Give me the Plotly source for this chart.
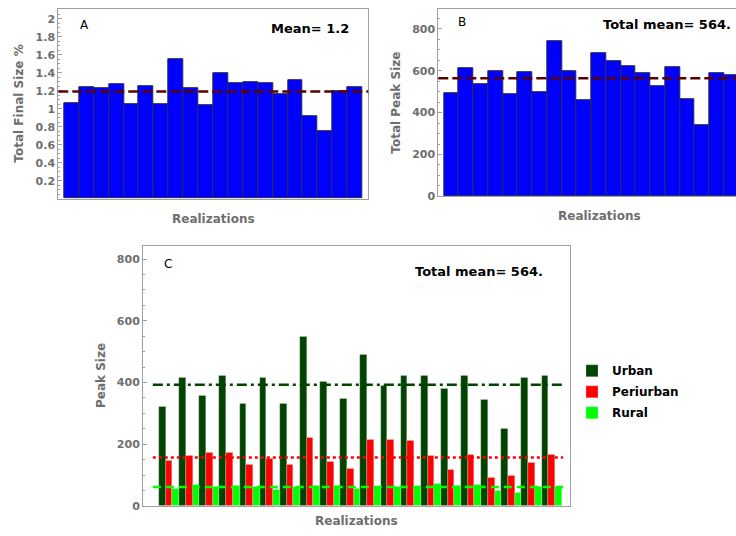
import plotly.graph_objects as go

# ---- data -------------------------------------------------------------
realizations = list(range(1, 21))

# Panel A: total final size (%) per realization
final_size_pct = [1.06, 1.24, 1.23, 1.27, 1.05, 1.25, 1.055, 1.55, 1.23, 1.04,
                  1.40, 1.28, 1.30, 1.28, 1.16, 1.32, 0.92, 0.75, 1.19, 1.24]

# Panel B: total peak size per realization
total_peak = [492, 613, 536, 600, 490, 591, 498, 743, 596, 459,
              685, 646, 621, 590, 528, 618, 465, 342, 588, 579]

# Panel C: peak size split by area type
urban = [323, 417, 358, 423, 331, 414, 330, 549, 404, 346,
         490, 389, 423, 421, 381, 423, 344, 250, 414, 422]
periurban = [146, 164, 174, 174, 135, 154, 135, 220, 143, 121,
             214, 215, 210, 162, 118, 166, 91, 98, 140, 165]
rural = [57, 68, 62, 66, 62, 54, 62, 65, 65, 56,
         63, 63, 62, 72, 65, 69, 51, 43, 62, 63]

series_names = ["Urban", "Periurban", "Rural"]
series_colors = ["#004400", "#ff0000", "#00ff00"]

tick_a = [0.2, 0.4, 0.6, 0.8, 1.0, 1.2, 1.4, 1.6, 1.8, 2.0]
tick_a_text = ["0.2", "0.4", "0.6", "0.8", "1", "1.2", "1.4", "1.6", "1.8", "2"]
tick_peak = [0, 200, 400, 600, 800]

# ---- helpers ----------------------------------------------------------
W, H = 736, 536
FONT = "DejaVu Sans"
GRAY = "#6e6e6e"
FRAME = "#a0a0a0"


def px_x(a, b):
    return [a / W, min(b / W, 1.0)]


def px_y(top, bottom):
    return [1 - bottom / H, 1 - top / H]


def mean(v):
    return sum(v) / len(v)


mean_a = mean(final_size_pct)
mean_b = mean(total_peak)
mean_series = [mean(urban), mean(periurban), mean(rural)]

fig = go.Figure()

# Panel A bars
fig.add_trace(go.Bar(
    x=realizations, y=final_size_pct, xaxis="x", yaxis="y",
    marker=dict(color="#0000ff", line=dict(color="#2a2a50", width=1)),
    showlegend=False, hoverinfo="skip"))

# Panel B bars
fig.add_trace(go.Bar(
    x=realizations, y=total_peak, xaxis="x2", yaxis="y2",
    marker=dict(color="#0000ff", line=dict(color="#2a2a50", width=1)),
    showlegend=False, hoverinfo="skip"))

# Panel C grouped bars
for name, vals, col in zip(series_names, [urban, periurban, rural], series_colors):
    fig.add_trace(go.Bar(
        x=realizations, y=vals, name=name, xaxis="x3", yaxis="y3",
        legendgroup=name,
        marker=dict(color=col, line=dict(color="rgba(220,220,220,0.6)", width=0.5)),
        hoverinfo="skip"))

tickfont = dict(family=FONT, size=11, color=GRAY, weight="bold")


def frame_axis(**kw):
    base = dict(showline=True, linecolor=FRAME, linewidth=1, mirror=True,
                showgrid=False, zeroline=False, ticks="")
    base.update(kw)
    return base


fig.update_layout(
    width=W, height=H,
    margin=dict(l=0, r=0, t=0, b=0),
    paper_bgcolor="white", plot_bgcolor="white",
    barmode="group", bargap=0, bargroupgap=0,
    xaxis=frame_axis(domain=px_x(58.3, 368.3), range=[0.10, 20.90],
                     showticklabels=False, anchor="y"),
    yaxis=frame_axis(domain=px_y(9.3, 201.3), range=[0, 2.106], anchor="x",
                     tickvals=tick_a, ticktext=tick_a_text, tickfont=tickfont,
                     ticks="inside", ticklen=4, tickcolor=FRAME,
                     minor=dict(dtick=0.05, ticks="inside", ticklen=2, tickcolor=FRAME)),
    xaxis2=frame_axis(domain=px_x(438.3, 760), range=[0.11, 20.31],
                      showticklabels=False, anchor="y2"),
    yaxis2=frame_axis(domain=px_y(9.3, 199), range=[0, 894], anchor="x2",
                      mirror=False, tickvals=tick_peak, tickfont=tickfont,
                      ticks="inside", ticklen=4, tickcolor=FRAME,
                      minor=dict(dtick=50, ticks="inside", ticklen=2, tickcolor=FRAME)),
    xaxis3=frame_axis(domain=px_x(143, 570), range=[-0.295, 20.91],
                      showticklabels=False, anchor="y3"),
    yaxis3=frame_axis(domain=px_y(249, 512.7), range=[0, 843], anchor="x3",
                      tickvals=tick_peak, tickfont=tickfont,
                      ticks="inside", ticklen=4, tickcolor=FRAME,
                      minor=dict(dtick=50, ticks="inside", ticklen=2, tickcolor=FRAME)),
    legend=dict(x=572 / W, y=1 - 361 / H, xanchor="left", yanchor="top",
                font=dict(family=FONT, size=12, color="black", weight="bold"),
                bgcolor="rgba(0,0,0,0)", itemwidth=30, traceorder="grouped",
                tracegroupgap=2),
)

# mean lines
shapes = [
    dict(type="line", xref="x domain", yref="y", x0=0, x1=1, y0=mean_a, y1=mean_a,
         line=dict(color="#5a0000", width=2.5, dash="10px,4px")),
    dict(type="line", xref="x2 domain", yref="y2", x0=0, x1=1, y0=mean_b, y1=mean_b,
         line=dict(color="#5a0000", width=2.5, dash="10px,4px")),
]
mean_dashes = ["10px,4px,3px,4px", "3px,3px", "8px,5px"]
for m, col, dash in zip(mean_series, series_colors, mean_dashes):
    shapes.append(dict(type="line", xref="x3 domain", yref="y3", x0=0.023, x1=0.984,
                       y0=m, y1=m, line=dict(color=col, width=2.5, dash=dash)))
fig.update_layout(shapes=shapes)


def ann(text, x, y, size=13, bold=True, color="black", xanchor="left", angle=0):
    fig.add_annotation(
        text=text, x=x / W, y=1 - y / H, xref="paper", yref="paper",
        xanchor=xanchor, yanchor="middle", showarrow=False, textangle=angle,
        font=dict(family=FONT, size=size, color=color,
                  weight="bold" if bold else "normal"))


# panel letters and mean labels
ann("A", 78, 25, size=12, bold=False)
ann(f"Mean= {mean_a:.1f}", 269, 29)
ann("B", 456, 22, size=12, bold=False)
ann(f"Total mean= {mean_b:.0f}.", 601, 24.5)
ann("C", 162, 267, size=12, bold=False)
ann(f"Total mean= {mean_b:.0f}.", 413, 275)

# axis titles
ann("Total Final Size %", 19, 105, size=12, color=GRAY, xanchor="center", angle=-90)
ann("Realizations", 213, 222, size=12, color=GRAY, xanchor="center")
ann("Total Peak Size", 396, 104, size=12, color=GRAY, xanchor="center", angle=-90)
ann("Realizations", 599, 218.5, size=12, color=GRAY, xanchor="center")
ann("Peak Size", 101, 381, size=12, color=GRAY, xanchor="center", angle=-90)
ann("Realizations", 356, 528, size=12, color=GRAY, xanchor="center")

fig.write_html("out.html")
